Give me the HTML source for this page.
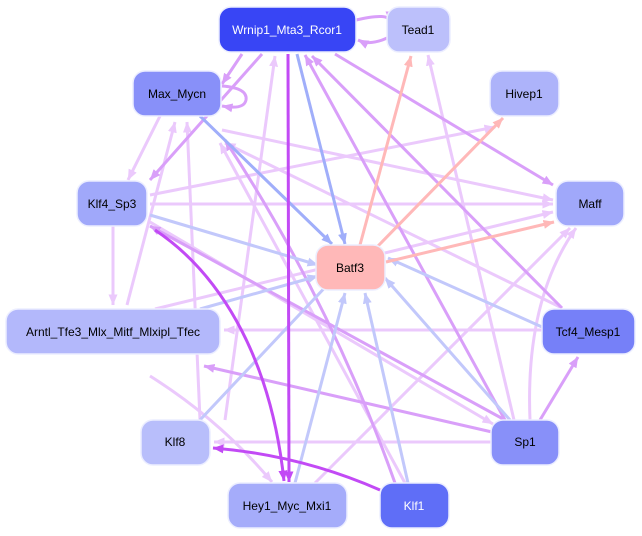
<!DOCTYPE html>
<html><head><meta charset="utf-8"><style>
html,body{margin:0;padding:0;background:#fff;}
svg{display:block;}
text{font-family:"Liberation Sans",sans-serif;font-size:12px;text-anchor:middle;dominant-baseline:central;}
</style></head><body>
<svg width="642" height="536" viewBox="0 0 642 536" xmlns="http://www.w3.org/2000/svg">
<defs>
<marker id="mL" markerWidth="4" markerHeight="4" refX="3.5" refY="2" orient="auto" markerUnits="strokeWidth"><path d="M0,0.5L3.6,2L0,3.5z" fill="#ebc9fc"/></marker>
<marker id="mM" markerWidth="4" markerHeight="4" refX="3.5" refY="2" orient="auto" markerUnits="strokeWidth"><path d="M0,0.5L3.6,2L0,3.5z" fill="#d99ff9"/></marker>
<marker id="mB" markerWidth="4" markerHeight="4" refX="3.5" refY="2" orient="auto" markerUnits="strokeWidth"><path d="M0,0.5L3.6,2L0,3.5z" fill="#c2c8fb"/></marker>
<marker id="mB2" markerWidth="4" markerHeight="4" refX="3.5" refY="2" orient="auto" markerUnits="strokeWidth"><path d="M0,0.5L3.6,2L0,3.5z" fill="#a0aefa"/></marker>
<marker id="mP" markerWidth="4" markerHeight="4" refX="3.5" refY="2" orient="auto" markerUnits="strokeWidth"><path d="M0,0.5L3.6,2L0,3.5z" fill="#ffb8b8"/></marker>
<marker id="mS" markerWidth="4" markerHeight="4" refX="3.5" refY="2" orient="auto" markerUnits="strokeWidth"><path d="M0,0.5L3.6,2L0,3.5z" fill="#c24af5"/></marker>
</defs>
<g fill="none" stroke-width="3">
<g stroke="#ebc9fc" marker-end="url(#mL)">
<path d="M160,116 L128,180"/>
<path d="M222,130 L553,200"/>
<path d="M150,195 L495,127"/>
<path d="M150,204 L553,204"/>
<path d="M150,222 L493,424"/>
<path d="M113,226 L113,305"/>
<path d="M542,330 L224,330"/>
<path d="M491,442 L214,442"/>
<path d="M315,483 L570,228"/>
<path d="M150,376 Q220,420 272,482"/>
<path d="M155,309 L553,212"/>
<path d="M127,305 L175,122"/>
<path d="M200,420 L187,122"/>
<path d="M225,420 L275,56"/>
<path d="M514,420 L428,55"/>
<path d="M530,420 Q525,300 576,228"/>
<path d="M560,307 L225,143"/>
<path d="M405,483 L220,143"/>
</g>
<g stroke="#d99ff9" marker-end="url(#mM)">
<path d="M242,54 L222,84"/>
<path d="M262,54 L150,180"/>
<path d="M335,54 L553,185"/>
<path d="M492,432 L204,366"/>
<path d="M540,420 L578,357"/>
<path d="M562,308 L312,56"/>
<path d="M505,420 Q440,300 305,55"/>
<path d="M395,483 Q330,300 225,140"/>
<path d="M356,20 Q390,12 390,22"/>
<path d="M387,38 Q370,46 358,40"/>
<path d="M222,86 Q248,88 246,100 Q244,110 222,106"/>
<path d="M505,420 L150,226"/>
</g>
<g stroke="#c2c8fb" marker-end="url(#mB)">
<path d="M150,215 L318,265"/>
<path d="M560,335 L388,258"/>
<path d="M510,420 L385,278"/>
<path d="M408,483 L365,293"/>
<path d="M295,483 L345,293"/>
<path d="M200,420 L332,280"/>
<path d="M200,309 L318,276"/>
</g>
<g stroke="#a0aefa" marker-end="url(#mB2)">
<path d="M297,54 L345,244"/>
<path d="M200,116 L332,244"/>
</g>
<g stroke="#ffb8b8" marker-end="url(#mP)">
<path d="M360,245 L411,56"/>
<path d="M378,246 L503,118"/>
<path d="M386,262 L554,222"/>
</g>
<g stroke="#c24af5" marker-end="url(#mS)">
<path d="M288,54 L289,482"/>
<path d="M380,490 Q300,455 213,448"/>
<path d="M155,230 C215,270 270,350 284,481"/>
</g>
</g>
<g stroke="#eceeff" stroke-width="1.5">
<rect x="219" y="7" width="137" height="45" rx="12" fill="#3845f5"/>
<rect x="387" y="7" width="63" height="45" rx="12" fill="#bcc0fb"/>
<rect x="133" y="71" width="88" height="45" rx="12" fill="#8890f9"/>
<rect x="490" y="71" width="69" height="45" rx="12" fill="#adb3fa"/>
<rect x="77" y="181" width="70" height="45" rx="12" fill="#a0a8fa"/>
<rect x="556" y="181" width="68" height="45" rx="12" fill="#a0a8fa"/>
<rect x="316" y="245" width="69" height="45" rx="12" fill="#ffb8b8"/>
<rect x="6" y="309" width="214" height="45" rx="12" fill="#b3b8fb"/>
<rect x="542" y="309" width="93" height="45" rx="12" fill="#7680f8"/>
<rect x="141" y="420" width="69" height="45" rx="12" fill="#b8befb"/>
<rect x="491" y="420" width="68" height="45" rx="12" fill="#8890f9"/>
<rect x="228" y="483" width="119" height="45" rx="12" fill="#a5acfa"/>
<rect x="380" y="483" width="69" height="45" rx="12" fill="#5f6ef7"/>
</g>
<text x="287" y="30" fill="#fff">Wrnip1_Mta3_Rcor1</text>
<text x="418" y="30">Tead1</text>
<text x="177" y="94">Max_Mycn</text>
<text x="524" y="94">Hivep1</text>
<text x="112" y="204">Klf4_Sp3</text>
<text x="590" y="204">Maff</text>
<text x="350" y="268">Batf3</text>
<text x="113" y="332">Arntl_Tfe3_Mlx_Mitf_Mlxipl_Tfec</text>
<text x="588" y="332">Tcf4_Mesp1</text>
<text x="175" y="442">Klf8</text>
<text x="525" y="442">Sp1</text>
<text x="287" y="506">Hey1_Myc_Mxi1</text>
<text x="414" y="506" fill="#fff">Klf1</text>
</svg>
</body></html>
